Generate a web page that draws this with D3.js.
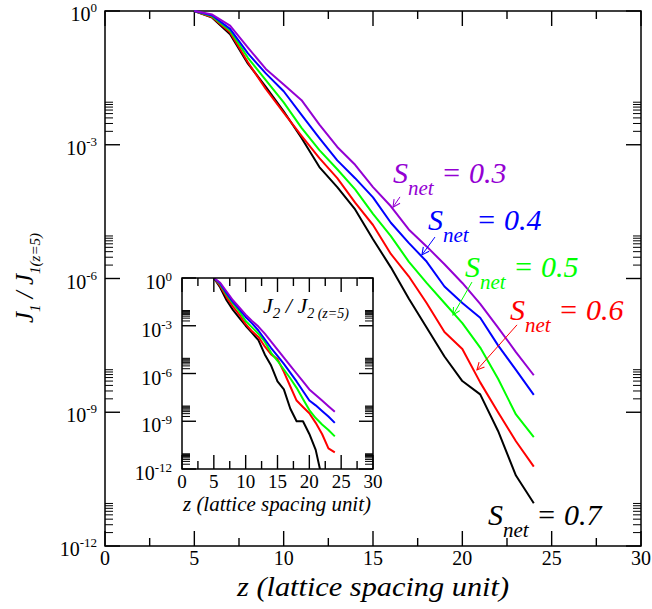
<!DOCTYPE html>
<html>
<head>
<meta charset="utf-8">
<script src="https://cdn.jsdelivr.net/npm/d3@7"></script>
<style>
  body { margin: 0; background: #fff; }
  svg { display: block; }
</style>
</head>
<body>
<div id="my_dataviz"></div>
<script>
// z positions (lattice spacing units)
const zSteps = [5, 6, 7, 8, 9, 10, 11, 12, 13, 14, 15, 16, 17, 18, 19, 20, 21, 22, 23, 24]

// main plot: log10(J1 / J1(z=5)) for each S_net
const mainNet03 = [0, -0.08, -0.33, -0.82, -1.30, -1.65, -2.00, -2.55, -3.05, -3.45, -3.95, -4.38, -4.90, -5.28, -5.68, -6.10, -6.57, -7.10, -7.65, -8.17]
const mainNet04 = [0, -0.10, -0.40, -0.95, -1.40, -1.80, -2.33, -2.85, -3.35, -3.75, -4.18, -4.75, -5.20, -5.62, -6.18, -6.55, -6.88, -7.50, -8.05, -8.61]
const mainNet05 = [0, -0.12, -0.44, -1.05, -1.55, -2.05, -2.62, -3.12, -3.55, -4.00, -4.55, -5.05, -5.62, -6.10, -6.55, -7.00, -7.55, -8.25, -9.05, -9.56]
const mainNet06 = [0, -0.14, -0.48, -1.15, -1.75, -2.28, -2.80, -3.30, -3.75, -4.30, -4.80, -5.45, -5.95, -6.55, -7.20, -7.58, -8.33, -9.00, -9.65, -10.22]
const mainNet07 = [0, -0.15, -0.52, -1.18, -1.70, -2.25, -2.85, -3.50, -3.95, -4.45, -5.12, -5.75, -6.45, -7.10, -7.75, -8.30, -8.60, -9.42, -10.42, -11.04]

// inset: log10(J2 / J2(z=5))
const insetNet03 = [0, -0.30, -0.85, -1.40, -1.85, -2.30, -2.70, -3.05, -3.50, -4.00, -4.50, -5.00, -5.50, -6.00, -6.50, -7.00, -7.35, -7.70, -8.05, -8.40]
const insetNet04 = [0, -0.35, -0.95, -1.50, -1.95, -2.45, -2.85, -3.30, -3.85, -4.40, -4.90, -5.40, -5.95, -6.50, -7.10, -7.70, -8.00, -8.35, -8.70, -9.10]
const insetNet05 = [0, -0.40, -1.05, -1.60, -2.10, -2.70, -3.10, -3.50, -4.00, -4.70, -5.20, -5.75, -6.30, -6.90, -7.60, -8.30, -8.80, -9.20, -9.55, -9.95]
const insetNet06 = [0, -0.50, -1.20, -1.80, -2.30, -2.90, -3.35, -3.70, -4.30, -4.80, -5.10, -5.90, -6.80, -7.70, -8.10, -8.50, -9.10, -9.80, -10.70, -10.95]
const insetNet07 = [0, -0.60, -1.40, -2.00, -2.50, -3.00, -3.45, -3.90, -4.80, -5.50, -6.50, -7.00, -8.20, -9.00, -9.00, -9.80, -10.80, -12.60]

const netLabels = ['0.3', '0.4', '0.5', '0.6', '0.7']
const netColors = ['#9400d3', '#0000ff', '#00ff00', '#ff0000', '#000000']

// axis ticks
const xMajor = [0, 5, 10, 15, 20, 25, 30]
const xMinor = [2.5, 7.5, 12.5, 17.5, 22.5, 27.5]
const yMajorExp = [0, -3, -6, -9, -12]
const yMinorMult = [2, 3, 4, 5, 6, 7, 8, 9]

// label anchors (z, log10 value) and arrow (from -> to) in data units
const labelAt = [[16.12, -3.86], [18.08, -4.91], [20.15, -5.97], [22.67, -6.93], [21.44, -11.53]]
const arrowFrom = [[16.51, -4.17], [18.47, -5.07], [20.54, -6.08], [23.06, -7.04]]
const arrowTo = [[16.12, -4.40], [17.74, -5.47], [19.48, -6.82], [20.82, -8.05]]

const W = 652, H = 609
const SERIF = '"Liberation Serif", "DejaVu Serif", "Times New Roman", Times, serif'

const svg = d3.select('#my_dataviz').append('svg')
  .attr('width', W).attr('height', H)
  .attr('viewBox', `0 0 ${W} ${H}`)
  .attr('font-family', SERIF)

svg.append('defs').append('marker')
  .attr('id', 'arrowhead')
  .attr('viewBox', '0 0 10 10')
  .attr('refX', 9).attr('refY', 5)
  .attr('markerWidth', 9).attr('markerHeight', 9)
  .attr('markerUnits', 'userSpaceOnUse')
  .attr('orient', 'auto')
  .append('path')
  .attr('d', 'M1,1 L9,5 L1,9')
  .attr('fill', 'none')
  .attr('stroke', 'context-stroke')
  .attr('stroke-width', 1.2)

// draws frame, inward ticks on all sides and tick labels
function drawFrame(g, x, y, o) {
  const [x0, x1] = x.range()
  const [y0, y1] = y.range() // y0 bottom, y1 top
  const fr = g.append('g').attr('stroke', '#000').attr('stroke-width', 1.4)

  const yMinor = []
  yMajorExp.forEach((e) => {
    if (e < 0) yMinorMult.forEach((m) => yMinor.push(m * Math.pow(10, e)))
  })

  xMajor.forEach((v) => {
    fr.append('line').attr('x1', x(v)).attr('x2', x(v)).attr('y1', y0).attr('y2', y0 - o.major)
    fr.append('line').attr('x1', x(v)).attr('x2', x(v)).attr('y1', y1).attr('y2', y1 + o.major)
  })
  xMinor.forEach((v) => {
    fr.append('line').attr('x1', x(v)).attr('x2', x(v)).attr('y1', y0).attr('y2', y0 - o.minor)
    fr.append('line').attr('x1', x(v)).attr('x2', x(v)).attr('y1', y1).attr('y2', y1 + o.minor)
  })
  yMajorExp.forEach((e) => {
    const yy = y(Math.pow(10, e))
    fr.append('line').attr('x1', x0).attr('x2', x0 + o.major).attr('y1', yy).attr('y2', yy)
    fr.append('line').attr('x1', x1).attr('x2', x1 - o.major).attr('y1', yy).attr('y2', yy)
  })
  yMinor.forEach((v) => {
    const yy = y(v)
    fr.append('line').attr('x1', x0).attr('x2', x0 + o.minor).attr('y1', yy).attr('y2', yy).attr('stroke-width', 1)
    fr.append('line').attr('x1', x1).attr('x2', x1 - o.minor).attr('y1', yy).attr('y2', yy).attr('stroke-width', 1)
  })

  g.append('rect')
    .attr('x', x0).attr('y', y1).attr('width', x1 - x0).attr('height', y0 - y1)
    .attr('fill', 'none').attr('stroke', '#000').attr('stroke-width', 1.5)

  // x tick labels
  g.selectAll('.xlab').data(xMajor).join('text')
    .attr('x', (d) => x(d)).attr('y', y0 + o.xLabDy)
    .attr('text-anchor', 'middle').attr('font-size', o.labSize)
    .text((d) => d)

  // y tick labels 10^n
  yMajorExp.forEach((e) => {
    const t = g.append('text')
      .attr('x', x0 - o.yLabGap).attr('y', y(Math.pow(10, e)) + o.yLabDy)
      .attr('text-anchor', 'end').attr('font-size', o.ylabSize)
    t.append('tspan').text('10')
    t.append('tspan').attr('dy', -o.supDy).attr('font-size', o.supSize).text(e)
  })
}

// ---------- main plot ----------
const x = d3.scaleLinear().domain([0, 30]).range([105, 641])
const y = d3.scaleLog().domain([1e-12, 1]).range([546, 11])

const main = svg.append('g')
drawFrame(main, x, y, { major: 15, minor: 8, xLabDy: 19, labSize: 20, ylabSize: 20, yLabGap: 8, yLabDy: 10, supDy: 9, supSize: 13 })

const mainSeries = [mainNet03, mainNet04, mainNet05, mainNet06, mainNet07]
const line = d3.line()
  .x((d) => x(d[0]))
  .y((d) => y(Math.pow(10, d[1])))

// draw black first so violet is on top
mainSeries.slice().reverse().forEach((vals, i) => {
  const k = mainSeries.length - 1 - i
  main.append('path')
    .datum(vals.map((v, j) => [zSteps[j], v]))
    .attr('d', line)
    .attr('fill', 'none')
    .attr('stroke', netColors[k])
    .attr('stroke-width', 2)
    .attr('stroke-linejoin', 'round')
})

// S_net labels
labelAt.forEach((p, i) => {
  const t = main.append('text')
    .attr('x', x(p[0])).attr('y', y(Math.pow(10, p[1])))
    .attr('fill', netColors[i])
    .attr('font-style', 'italic')
    .attr('font-size', 30)
  t.append('tspan').text('S')
  t.append('tspan').attr('dy', 12).attr('font-size', 21).text('net')
  t.append('tspan').attr('dy', -12).text(' = ' + netLabels[i])
})

arrowFrom.forEach((p, i) => {
  main.append('line')
    .attr('x1', x(p[0])).attr('y1', y(Math.pow(10, p[1])))
    .attr('x2', x(arrowTo[i][0])).attr('y2', y(Math.pow(10, arrowTo[i][1])))
    .attr('stroke', netColors[i])
    .attr('stroke-width', 1)
    .attr('marker-end', 'url(#arrowhead)')
})

// axis titles
main.append('text')
  .attr('x', 373).attr('y', 596)
  .attr('text-anchor', 'middle')
  .attr('font-style', 'italic')
  .attr('font-size', 28)
  .attr('textLength', 272)
  .attr('lengthAdjust', 'spacingAndGlyphs')
  .text('z (lattice spacing unit)')

const yTitle = main.append('text')
  .attr('transform', 'translate(33, 278) rotate(-90)')
  .attr('text-anchor', 'middle')
  .attr('font-style', 'italic')
  .attr('font-size', 25)
yTitle.append('tspan').text('J')
yTitle.append('tspan').attr('dy', 7).attr('font-size', 15).text('1')
yTitle.append('tspan').attr('dy', -7).text(' / J')
yTitle.append('tspan').attr('dy', 7).attr('font-size', 15).text('1(z=5)')

// ---------- inset ----------
const xi = d3.scaleLinear().domain([0, 30]).range([182, 373])
const yi = d3.scaleLog().domain([1e-12, 1]).range([469, 278])

const inset = svg.append('g')
inset.append('rect')
  .attr('x', 182).attr('y', 278).attr('width', 191).attr('height', 191)
  .attr('fill', '#fff')

svg.select('defs').append('clipPath').attr('id', 'insetClip')
  .append('rect').attr('x', 182).attr('y', 278).attr('width', 191).attr('height', 191)

const insetSeries = [insetNet03, insetNet04, insetNet05, insetNet06, insetNet07]
const lineI = d3.line()
  .x((d) => xi(d[0]))
  .y((d) => yi(Math.pow(10, d[1])))

const insetLines = inset.append('g').attr('clip-path', 'url(#insetClip)')
insetSeries.slice().reverse().forEach((vals, i) => {
  const k = insetSeries.length - 1 - i
  insetLines.append('path')
    .datum(vals.map((v, j) => [zSteps[j], v]))
    .attr('d', lineI)
    .attr('fill', 'none')
    .attr('stroke', netColors[k])
    .attr('stroke-width', 2)
    .attr('stroke-linejoin', 'round')
})

drawFrame(inset, xi, yi, { major: 14, minor: 8, xLabDy: 19, labSize: 19, ylabSize: 20, yLabGap: 10, yLabDy: 11, supDy: 8, supSize: 13 })

const j2 = inset.append('text')
  .attr('x', 263).attr('y', 313)
  .attr('font-style', 'italic')
  .attr('font-size', 22)
j2.append('tspan').text('J')
j2.append('tspan').attr('dy', 5).attr('font-size', 15).text('2')
j2.append('tspan').attr('dy', -5).text(' / J')
j2.append('tspan').attr('dy', 5).attr('font-size', 14).text('2 (z=5)')

inset.append('text')
  .attr('x', 277).attr('y', 511)
  .attr('text-anchor', 'middle')
  .attr('font-style', 'italic')
  .attr('font-size', 20)
  .attr('textLength', 188)
  .attr('lengthAdjust', 'spacingAndGlyphs')
  .text('z (lattice spacing unit)')
</script>
</body>
</html>
